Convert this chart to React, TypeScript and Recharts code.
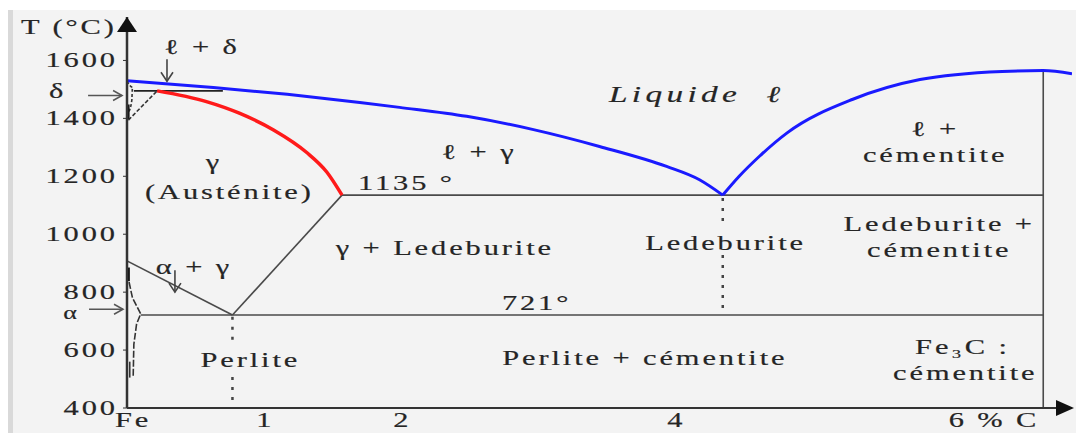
import React from "react";
import { ComposedChart, Line, XAxis, YAxis, ReferenceDot } from "recharts";

type Pt = { c: number; t: number };

// axis ticks
const TEMP_TICKS = [400, 600, 800, 1000, 1200, 1400, 1600];
const CARBON_TICKS = [0, 1, 2, 4, 6];
const CARBON_TICK_LABELS: Record<number, string> = { 0: "Fe", 1: "1", 2: "2", 4: "4", 6: "6 % C" };

// liquidus, both branches meeting at the eutectic point
const liquidusLeft: Pt[] = [
  { c: 0, t: 1530 },
  { c: 0.63, t: 1507 },
  { c: 1.17, t: 1483 },
  { c: 1.7, t: 1455 },
  { c: 1.99, t: 1438 },
  { c: 2.48, t: 1407 },
  { c: 2.96, t: 1362 },
  { c: 3.45, t: 1303 },
  { c: 3.94, t: 1234 },
  { c: 4.18, t: 1188 },
  { c: 4.35, t: 1135 },
];
const liquidusRight: Pt[] = [
  { c: 4.35, t: 1135 },
  { c: 4.47, t: 1200 },
  { c: 4.62, t: 1270 },
  { c: 4.82, t: 1350 },
  { c: 5.3, t: 1466 },
  { c: 5.79, t: 1534 },
  { c: 6.39, t: 1562 },
  { c: 6.69, t: 1565 },
  { c: 6.9, t: 1554 },
];

// austenite solidus
const solidusGamma: Pt[] = [
  { c: 0.22, t: 1495 },
  { c: 0.58, t: 1458 },
  { c: 0.82, t: 1418 },
  { c: 1.07, t: 1360 },
  { c: 1.31, t: 1283 },
  { c: 1.46, t: 1214 },
  { c: 1.57, t: 1135 },
];

const peritectic: Pt[] = [
  { c: 0.05, t: 1495 },
  { c: 0.7, t: 1495 },
];
const deltaGamma: Pt[] = [
  { c: 0.01, t: 1394 },
  { c: 0.22, t: 1495 },
];
const deltaSolvus: Pt[] = [
  { c: 0, t: 1528 },
  { c: 0.04, t: 1508 },
  { c: 0.035, t: 1462 },
  { c: 0.01, t: 1420 },
];
const deltaEdge: Pt[] = [
  { c: 0.008, t: 1448 },
  { c: 0.008, t: 1398 },
];

const a3Line: Pt[] = [
  { c: 0, t: 908 },
  { c: 0.77, t: 721 },
];
const acmLine: Pt[] = [
  { c: 0.77, t: 721 },
  { c: 1.57, t: 1135 },
];
const eutecticLine: Pt[] = [
  { c: 1.57, t: 1135 },
  { c: 6.69, t: 1135 },
];
const eutectoidLine: Pt[] = [
  { c: 0.1, t: 721 },
  { c: 6.69, t: 721 },
];
const cementiteLine: Pt[] = [
  { c: 6.69, t: 400 },
  { c: 6.69, t: 1565 },
];

const alphaEdge: Pt[] = [
  { c: 0.01, t: 885 },
  { c: 0.01, t: 838 },
];
const alphaSolvus: Pt[] = [
  { c: 0.015, t: 835 },
  { c: 0.04, t: 780 },
  { c: 0.1, t: 725 },
  { c: 0.07, t: 690 },
  { c: 0.05, t: 620 },
  { c: 0.045, t: 505 },
];
const alphaInner: Pt[] = [
  { c: 0.02, t: 560 },
  { c: 0.02, t: 505 },
];

// dotted composition markers, broken where the labels sit
const pearliteUpper: Pt[] = [
  { c: 0.77, t: 715 },
  { c: 0.77, t: 612 },
];
const pearliteLower: Pt[] = [
  { c: 0.77, t: 507 },
  { c: 0.77, t: 404 },
];
const ledeburiteUpper: Pt[] = [
  { c: 4.35, t: 1125 },
  { c: 4.35, t: 1040 },
];
const ledeburiteLower: Pt[] = [
  { c: 4.35, t: 928 },
  { c: 4.35, t: 728 },
];

const regionLabels = [
  { c: -0.435, t: 1690, text: "T (°C)" },
  { c: 0.536, t: 1621, text: "ℓ + δ" },
  { c: -0.518, t: 1469, text: "δ" },
  { c: 0.624, t: 1224, text: "γ" },
  { c: 0.737, t: 1121, text: "(Austénite)" },
  { c: 0.478, t: 862, text: "α + γ" },
  { c: 0.89, t: 541, text: "Perlite" },
  { c: 2.56, t: 1259, text: "ℓ + γ" },
  { c: 2.03, t: 1152, text: "1135 °" },
  { c: 2.31, t: 928, text: "γ + Ledeburite" },
  { c: 4.36, t: 945, text: "Ledeburite" },
  { c: 2.98, t: 738, text: "721°" },
  { c: 3.77, t: 548, text: "Perlite + cémentite" },
  { c: 5.89, t: 1338, text: "ℓ +" },
  { c: 5.89, t: 1248, text: "cémentite" },
  { c: 5.92, t: 1010, text: "Ledeburite +" },
  { c: 5.92, t: 921, text: "cémentite" },
  { c: 6.09, t: 586, text: "Fe₃C :" },
  { c: 6.11, t: 497, text: "cémentite" },
];
const alphaLabel = { c: -0.416, t: 708, text: "α" };
const liquidLabel = { c: 4.15, t: 1455, text: "Liquide  ℓ" };

const pointers = [
  { c: -0.036, t: 1479, dir: "right" },
  { c: -0.029, t: 741, dir: "right" },
  { c: 0.292, t: 1528, dir: "down" },
  { c: 0.35, t: 800, dir: "down" },
];

const INK = "#252525";
const LINE = "#4a4a4a";
const FONT = "'Liberation Serif', 'DejaVu Serif', serif";
const SPACING = 2;
const STRETCH = 1.45;

const textStyle = {
  fontFamily: FONT,
  fontSize: 21,
  letterSpacing: SPACING,
  fill: INK,
  stroke: INK,
  strokeWidth: 0.18,
};

// wide, loosely spaced serif lettering
const Stretched = ({ x, y, anchor = "middle", style = {}, children }: any) => {
  const shift = anchor === "middle" ? SPACING / 2 : anchor === "end" ? SPACING : 0;
  return (
    <text
      transform={`translate(${x},${y}) scale(${STRETCH},1)`}
      x={shift}
      y={0}
      textAnchor={anchor}
      style={{ ...textStyle, ...style }}
    >
      {children}
    </text>
  );
};

const TempTick = ({ x, y, payload }: any) => (
  <Stretched x={x} y={y + 7} anchor="end">
    {payload.value}
  </Stretched>
);

const CarbonTick = ({ x, payload }: any) => {
  const v = payload.value as number;
  const anchor = v === 0 || v === 6 ? "start" : "middle";
  const dx = v === 0 ? -12 : 0;
  return (
    <Stretched x={x + dx} y={427} anchor={anchor}>
      {CARBON_TICK_LABELS[v]}
    </Stretched>
  );
};

const segment = (key: string, data: Pt[], opts: any = {}) => (
  <Line
    key={key}
    data={data}
    dataKey="t"
    type={opts.type ?? "linear"}
    stroke={opts.stroke ?? LINE}
    strokeWidth={opts.width ?? 1.6}
    strokeDasharray={opts.dash}
    dot={false}
    activeDot={false}
    isAnimationActive={false}
    legendType="none"
  />
);

const Pointer = ({ cx, cy, dir }: any) => {
  if (dir === "right") {
    return (
      <g stroke="#555" strokeWidth={1.5} fill="none">
        <line x1={cx - 34} y1={cy} x2={cx} y2={cy} />
        <polyline points={`${cx - 9},${cy - 5} ${cx},${cy} ${cx - 9},${cy + 5}`} />
      </g>
    );
  }
  const len = 22;
  return (
    <g stroke="#444" strokeWidth={1.6} fill="none">
      <line x1={cx} y1={cy - len} x2={cx} y2={cy} />
      <polyline points={`${cx - 6},${cy - 9} ${cx},${cy} ${cx + 6},${cy - 9}`} />
    </g>
  );
};

export default function App() {
  return (
    <div style={{ position: "absolute", left: 0, top: 0, width: 1076, height: 433, background: "#f3f3f3" }}>
      <div style={{ position: "absolute", left: 0, top: 0, width: 1076, height: 10, background: "#ffffff" }} />
      <div style={{ position: "absolute", left: 0, top: 0, width: 8, height: 433, background: "#ffffff" }} />
      <div style={{ position: "absolute", left: 8, top: 10, width: 5, height: 423, background: "#d9d9d9" }} />
      <div style={{ position: "absolute", left: 0, top: 0 }}>
        <ComposedChart width={1076} height={433} margin={{ top: 17, right: 4, bottom: 0, left: 0 }}>
          <XAxis
            type="number"
            dataKey="c"
            domain={[0, 6.9]}
            allowDataOverflow
            ticks={CARBON_TICKS}
            tick={<CarbonTick />}
            tickLine={false}
            axisLine={{ stroke: "#333", strokeWidth: 2 }}
            height={25}
          />
          <YAxis
            type="number"
            domain={[400, 1750]}
            allowDataOverflow
            ticks={TEMP_TICKS}
            tick={<TempTick />}
            tickSize={4}
            tickMargin={8}
            tickLine={{ stroke: "#333" }}
            axisLine={{ stroke: "#333", strokeWidth: 2.5 }}
            width={127}
          />

          {segment("cementite", cementiteLine)}
          {segment("eutectic", eutecticLine)}
          {segment("eutectoid", eutectoidLine)}
          {segment("a3", a3Line)}
          {segment("acm", acmLine)}
          {segment("peritectic", peritectic, { stroke: "#222" })}
          {segment("deltaGamma", deltaGamma, { stroke: "#333", dash: "4 2" })}
          {segment("deltaSolvus", deltaSolvus, { stroke: "#333", dash: "3 2", type: "monotone" })}
          {segment("deltaEdge", deltaEdge, { stroke: "#111", width: 3 })}
          {segment("alphaEdge", alphaEdge, { stroke: "#111", width: 3 })}
          {segment("alphaSolvus", alphaSolvus, { stroke: "#333", dash: "7 2" })}
          {segment("alphaInner", alphaInner, { stroke: "#333" })}
          {segment("pearliteUpper", pearliteUpper, { stroke: "#444", width: 2.5, dash: "3 7" })}
          {segment("pearliteLower", pearliteLower, { stroke: "#444", width: 2.5, dash: "3 7" })}
          {segment("ledeburiteUpper", ledeburiteUpper, { stroke: "#444", width: 2.5, dash: "3 7" })}
          {segment("ledeburiteLower", ledeburiteLower, { stroke: "#444", width: 2.5, dash: "3 7" })}
          {segment("solidus", solidusGamma, { stroke: "#ff1a1a", width: 3.5, type: "monotone" })}
          {segment("liquidusLeft", liquidusLeft, { stroke: "#1a1aff", width: 3, type: "monotone" })}
          {segment("liquidusRight", liquidusRight, { stroke: "#1a1aff", width: 3, type: "monotone" })}

          {/* axis arrowheads */}
          <ReferenceDot
            x={0}
            y={1750}
            ifOverflow="visible"
            shape={({ cx, cy }: any) => (
              <polygon points={`${cx},${cy} ${cx - 10},${cy + 15} ${cx + 10},${cy + 15}`} fill="#111" />
            )}
          />
          <ReferenceDot
            x={6.9}
            y={400}
            ifOverflow="visible"
            shape={({ cx, cy }: any) => (
              <polygon points={`${cx + 2},${cy} ${cx - 16},${cy - 8} ${cx - 16},${cy + 8}`} fill="#111" />
            )}
          />

          {pointers.map((p, i) => (
            <ReferenceDot
              key={`ptr-${i}`}
              x={p.c}
              y={p.t}
              ifOverflow="visible"
              shape={(props: any) => <Pointer {...props} dir={p.dir} />}
            />
          ))}

          {regionLabels.map((l, i) => (
            <ReferenceDot
              key={`lbl-${i}`}
              x={l.c}
              y={l.t}
              ifOverflow="visible"
              shape={({ cx, cy }: any) => (
                <Stretched x={cx} y={cy}>
                  {l.text}
                </Stretched>
              )}
            />
          ))}
          <ReferenceDot
            x={alphaLabel.c}
            y={alphaLabel.t}
            ifOverflow="visible"
            shape={({ cx, cy }: any) => (
              <Stretched x={cx} y={cy} style={{ fontSize: 18 }}>
                {alphaLabel.text}
              </Stretched>
            )}
          />
          <ReferenceDot
            x={liquidLabel.c}
            y={liquidLabel.t}
            ifOverflow="visible"
            shape={({ cx, cy }: any) => (
              <Stretched x={cx} y={cy} style={{ fontSize: 23, fontStyle: "italic", letterSpacing: 3, whiteSpace: "pre" }}>
                {liquidLabel.text}
              </Stretched>
            )}
          />
        </ComposedChart>
      </div>
    </div>
  );
}
